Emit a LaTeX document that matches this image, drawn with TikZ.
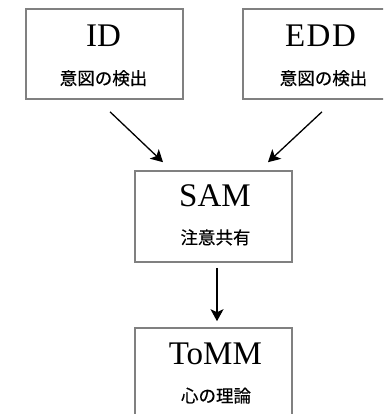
\documentclass[tikz,border=0pt]{standalone}
\usepackage{fontspec}
\setmainfont{Liberation Serif}
\newfontfamily\cjk[FakeBold=0.4]{Noto Sans CJK JP}
\usetikzlibrary{arrows.meta}
\begin{document}
\begin{tikzpicture}[x=1pt,y=-1pt,
  modbox/.style={draw=black!50, line width=1.6pt, minimum width=157pt, minimum height=90pt, inner sep=0pt},
  title/.style={font=\fontsize{33}{36}\selectfont, anchor=base, inner sep=0pt},
  sub/.style={font=\cjk\fontsize{17.5}{20}\selectfont, anchor=base, inner sep=0pt},
  conn/.style={line width=1.3pt, -{Stealth[length=12pt,width=13pt,inset=3pt]}}]
\clip (0,0) rectangle (383,414);
\fill[white] (0,0) rectangle (383,414);
\node[modbox] (ID) at (104.5,54) {};
\node[modbox] (EDD) at (321.5,54) {};
\node[modbox, minimum height=91pt] (SAM) at (213.5,216.5) {};
\node[modbox, minimum height=91pt] (ToMM) at (213.5,373.5) {};
\node[title] (tID) at (103.5,46.5) {ID};
\node[title] (tEDD) at (320.5,46.5) {E\kern1.5pt D\kern1.5pt D};
\node[title] (tSAM) at (215,206) {SAM};
\node[title] (tToMM) at (215.3,364) {ToMM};
\node[sub] (jID) at (103.5,84.8) {意図の検出};
\node[sub] (jEDD) at (323.5,84.8) {意図の検出};
\node[sub] (jSAM) at (215.5,244) {注意共有};
\node[sub] (jToMM) at (216,402.3) {心の理論};
\draw[conn] ([xshift=5.5pt,yshift=-12pt]ID.south) -- ([xshift=-50.5pt,yshift=8pt]SAM.north);
\draw[conn] ([xshift=0.5pt,yshift=-12pt]EDD.south) -- ([xshift=54.5pt,yshift=8pt]SAM.north);
\draw[conn] ([xshift=3.5pt,yshift=-5pt]SAM.south) -- ([xshift=3.5pt,yshift=6pt]ToMM.north);
\end{tikzpicture}
\end{document}
